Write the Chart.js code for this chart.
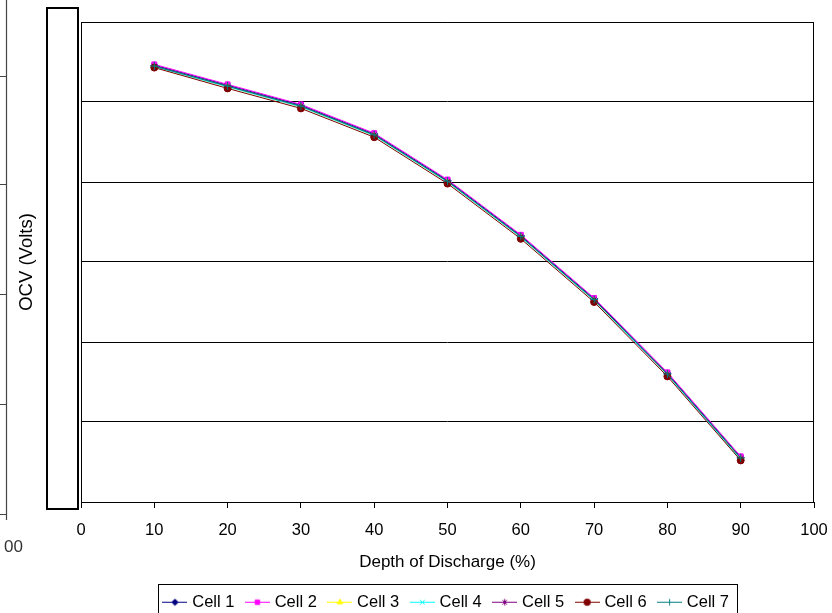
<!DOCTYPE html>
<html>
<head>
<meta charset="utf-8">
<script src="https://cdn.jsdelivr.net/npm/chart.js@4/dist/chart.umd.min.js"></script>
<style>
html,body{margin:0;padding:0;background:#fff;}
#wrap{width:832px;height:613px;position:relative;}
</style>
</head>
<body>
<div id="wrap"><canvas id="c" width="832" height="613"></canvas></div>
<script>
// ---- data ----
const depthOfDischarge = [10, 20, 30, 40, 50, 60, 70, 80, 90];
const cell1 = [4.146, 4.121, 4.096, 4.060, 4.002, 3.933, 3.854, 3.761, 3.656];
const cell2 = [4.147, 4.122, 4.097, 4.061, 4.003, 3.934, 3.855, 3.762, 3.657];
const cell3 = [4.144, 4.119, 4.094, 4.058, 4.000, 3.931, 3.852, 3.759, 3.654];
const cell4 = [4.144, 4.119, 4.094, 4.058, 4.000, 3.931, 3.852, 3.759, 3.653];
const cell5 = [4.145, 4.120, 4.095, 4.059, 4.001, 3.932, 3.853, 3.760, 3.655];
const cell6 = [4.143, 4.117, 4.092, 4.056, 3.998, 3.929, 3.850, 3.757, 3.652];
const cell7 = [4.145, 4.120, 4.095, 4.059, 4.001, 3.932, 3.853, 3.760, 3.655];
const seriesNames = ['Cell 1', 'Cell 2', 'Cell 3', 'Cell 4', 'Cell 5', 'Cell 6', 'Cell 7'];
const xTickValues = [0, 10, 20, 30, 40, 50, 60, 70, 80, 90, 100];
const yRange = [3.6, 4.2];
const yStep = 0.1;
const xTitle = 'Depth of Discharge (%)';
const yTitle = 'OCV (Volts)';
const clippedLabel = '00';

// ---- styles ----
const FONT = "'Liberation Sans', Arial, sans-serif";
const FS = 16.5;
const allSeries = [cell1, cell2, cell3, cell4, cell5, cell6, cell7];
const colors = ['#000080', '#FF00FF', '#FFFF00', '#00FFFF', '#800080', '#800000', '#008080'];
const styles = ['rectRot', 'rect', 'triangle', 'crossRot', 'star', 'circle', 'cross'];
const radii = [3.5, 3.5, 3.5, 3.5, 3.5, 3.5, 4];

function makeIcon(i) {
  const cv = document.createElement('canvas');
  cv.width = 25; cv.height = 11;
  const c = cv.getContext('2d');
  c.strokeStyle = colors[i]; c.fillStyle = colors[i]; c.lineWidth = 1;
  c.beginPath(); c.moveTo(0, 5.5); c.lineTo(25, 5.5); c.stroke();
  Chart.helpers.drawPoint(c, {pointStyle: styles[i], radius: 3.2, borderWidth: 1, rotation: 0}, 12.5, 5.5);
  return cv;
}
const icons = seriesNames.map((_, i) => makeIcon(i));

const datasets = seriesNames.map((name, i) => ({
  label: name,
  data: depthOfDischarge.map((x, k) => ({x: x, y: allSeries[i][k]})),
  borderColor: colors[i],
  backgroundColor: colors[i],
  borderWidth: 1,
  pointStyle: styles[i],
  pointRadius: radii[i],
  pointBorderWidth: 1,
  pointHoverRadius: radii[i],
  tension: 0,
  order: seriesNames.length - i
}));

const decor = {
  id: 'decor',
  beforeDraw(chart) {
    const ctx = chart.ctx;
    ctx.save();
    // remnants of a neighbouring axis on the far left
    ctx.strokeStyle = '#444'; ctx.lineWidth = 1.2;
    ctx.beginPath(); ctx.moveTo(6.5, 0); ctx.lineTo(6.5, 520); ctx.stroke();
    ctx.lineWidth = 1;
    [76, 184, 294, 404, 514].forEach(y => {
      ctx.beginPath(); ctx.moveTo(0, y + 0.5); ctx.lineTo(6.5, y + 0.5); ctx.stroke();
    });
    ctx.fillStyle = '#333';
    ctx.font = '17px ' + FONT;
    ctx.textAlign = 'right'; ctx.textBaseline = 'middle';
    ctx.fillText(clippedLabel, 23, 547);
    // framed empty box
    ctx.fillStyle = '#fff';
    ctx.fillRect(47, 8, 31, 501);
    ctx.strokeStyle = '#000'; ctx.lineWidth = 2;
    ctx.strokeRect(47, 8, 31, 501);
    ctx.restore();
  },
  afterDraw(chart) {
    const ctx = chart.ctx; const a = chart.chartArea;
    ctx.save();
    ctx.strokeStyle = '#000'; ctx.lineWidth = 1;
    const l = Math.round(a.left) + 0.5, t = Math.round(a.top) + 0.5;
    const r = Math.round(a.right) - 0.5, b = Math.round(a.bottom) + 0.5;
    ctx.beginPath();
    ctx.moveTo(l, b); ctx.lineTo(l, t); ctx.lineTo(r, t); ctx.lineTo(r, b);
    ctx.stroke();
    // legend frame
    const hb = chart.legend.legendHitBoxes;
    if (hb && hb.length) {
      let minX = Infinity, maxX = -Infinity, top = Infinity;
      hb.forEach(h => { minX = Math.min(minX, h.left); maxX = Math.max(maxX, h.left + h.width); top = Math.min(top, h.top); });
      ctx.strokeRect(Math.round(minX - 7.5) + 0.5, Math.round(top - 9.7) + 0.5, Math.round(maxX - minX + 15.5), 60);
    }
    ctx.restore();
  }
};

new Chart(document.getElementById('c'), {
  type: 'line',
  data: {datasets: datasets},
  plugins: [decor],
  options: {
    responsive: false,
    animation: false,
    events: [],
    layout: {padding: {left: 81, right: 18, top: 22, bottom: -7.5}},
    font: {family: FONT, size: FS},
    scales: {
      x: {
        type: 'linear', min: 0, max: 100,
        afterBuildTicks: s => { s.ticks = xTickValues.map(v => ({value: v})); },
        ticks: {color: '#000', font: {family: FONT, size: FS}, padding: 12.2, maxRotation: 0, autoSkip: false},
        grid: {drawOnChartArea: false, drawTicks: true, tickLength: 6, color: '#000', lineWidth: 1},
        border: {display: true, color: '#000', width: 1},
        title: {display: true, text: xTitle, color: '#000', font: {family: FONT, size: 17}, padding: {top: 0, bottom: 7.4}},
        afterFit: s => { s.height = 78; s.paddingLeft = 0; s.paddingRight = 0; }
      },
      y: {
        type: 'linear', min: yRange[0], max: yRange[1],
        ticks: {display: false, stepSize: yStep},
        grid: {color: '#000', lineWidth: 1, drawTicks: false},
        border: {display: false},
        title: {display: true, text: yTitle, color: '#000', font: {family: FONT, size: 18.5}, padding: {top: -65.1, bottom: 0}},
        afterFit: s => { s.width = 0; s.paddingTop = 0; s.paddingBottom = 0; }
      }
    },
    plugins: {
      tooltip: {enabled: false},
      legend: {
        position: 'bottom',
        labels: {
          usePointStyle: true,
          pointStyleWidth: 18,
          padding: 14,
          color: '#000',
          font: {family: FONT, size: FS},
          generateLabels: chart => chart.data.datasets.map((ds, i) => ({
            text: ds.label,
            pointStyle: icons[i],
            fillStyle: 'rgba(0,0,0,0)',
            strokeStyle: 'rgba(0,0,0,0)',
            lineWidth: 0,
            hidden: false,
            datasetIndex: i,
            fontColor: '#000'
          }))
        }
      }
    }
  }
});
</script>
</body>
</html>
